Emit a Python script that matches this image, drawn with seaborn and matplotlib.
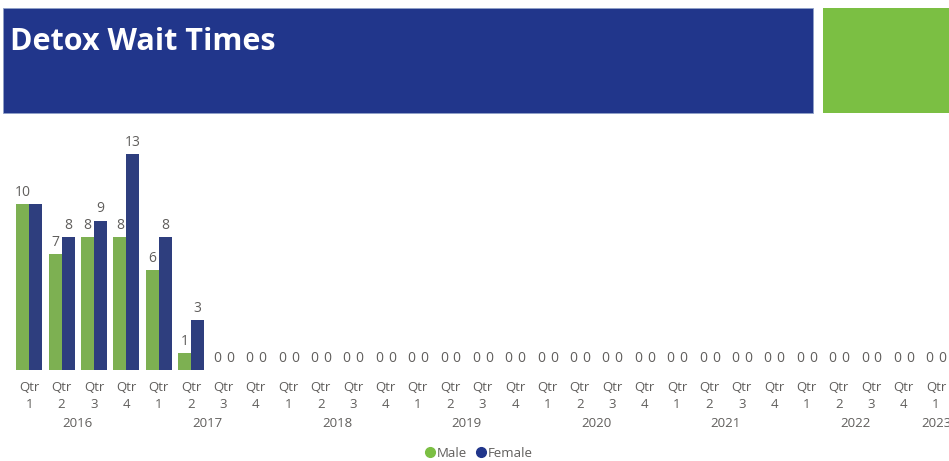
import matplotlib
matplotlib.use("Agg")
import matplotlib.pyplot as plt
import seaborn as sns
import pandas as pd
import numpy as np
from matplotlib.patches import Rectangle
from matplotlib.lines import Line2D

years = [2016]*4 + [2017]*4 + [2018]*4 + [2019]*4 + [2020]*4 + [2021]*4 + [2022]*4 + [2023]
quarters = [1, 2, 3, 4] * 7 + [1]
male = [10, 7, 8, 8, 6, 1] + [0]*23
female = [10, 8, 9, 13, 8, 3] + [0]*23
year_labels = ["2016", "2017", "2018", "2019", "2020", "2021", "2022", "2023"]

keys = [f"{y} Q{q}" for y, q in zip(years, quarters)]
df = pd.DataFrame({
    "period": keys * 2,
    "value": male + female,
    "sex": ["Male"] * len(keys) + ["Female"] * len(keys),
})

GREEN = "#7BBF43"
BLUE = "#21368B"
GRAY = "#605E5C"

sns.set_theme(style="white")
plt.rcParams["font.family"] = ["Open Sans", "DejaVu Sans"]

W, H = 949, 461
fig = plt.figure(figsize=(W/100, H/100), dpi=100)

# banner
fig.patches.append(Rectangle((3/W, 1-113/H), 810/W, 105/H, transform=fig.transFigure,
                             facecolor=BLUE, edgecolor="#8FA0C8", linewidth=0.6, zorder=0))
fig.patches.append(Rectangle((823/W, 1-113/H), 126/W, 105/H, transform=fig.transFigure,
                             facecolor=GREEN, edgecolor="none", zorder=0))
fig.text(10/W, 1-42/H, "Detox Wait Times", color="white", fontsize=22, fontweight="bold",
         va="center", ha="left")

# axes
left, right = 13/W, 1.0
bottom = (H-370)/H
top = (H-130)/H
ax = fig.add_axes([left, bottom, right-left, top-bottom])
sns.barplot(data=df, x="period", y="value", hue="sex", order=keys,
            hue_order=["Male", "Female"], palette=[GREEN, BLUE], width=0.8,
            ax=ax, legend=False, linewidth=0)
ax.set_xlim(-0.5, 28.4)
ax.set_ylim(0, 240/16.6)

male_labels = [str(v) for v in male]
# the female label of the first quarter is hidden by the male label in the reference
female_labels = [""] + [str(v) for v in female[1:]]
ax.bar_label(ax.containers[0], labels=male_labels, padding=3, color=GRAY, fontsize=10)
ax.bar_label(ax.containers[1], labels=female_labels, padding=3, color=GRAY, fontsize=10)

ax.set_xticks(range(len(keys)))
ax.set_xticklabels([f"Qtr\n{q}" for q in quarters], color=GRAY, fontsize=9.5, linespacing=1.35)
ax.tick_params(axis="x", length=0, pad=8)
ax.set_yticks([])
ax.set_xlabel("")
ax.set_ylabel("")
for s in ax.spines.values():
    s.set_visible(False)

# year labels
trans = ax.get_xaxis_transform()
for yl in year_labels:
    idx = [i for i, y in enumerate(years) if str(y) == yl]
    ax.text(np.mean(idx), -(423-370)/240, yl, transform=trans, ha="center", va="center",
            color=GRAY, fontsize=9.5, clip_on=False)

handles = [Line2D([0], [0], marker="o", linestyle="", markerfacecolor=GREEN, markeredgecolor=GREEN, markersize=7),
           Line2D([0], [0], marker="o", linestyle="", markerfacecolor=BLUE, markeredgecolor=BLUE, markersize=7)]
fig.legend(handles, ["Male", "Female"], loc="center", bbox_to_anchor=(478/W, 1-453/H), ncol=2,
           frameon=False, fontsize=9.5, handletextpad=0.0, columnspacing=0.6,
           labelcolor=GRAY, handlelength=1.0)

fig.savefig("out.png", dpi=100)
